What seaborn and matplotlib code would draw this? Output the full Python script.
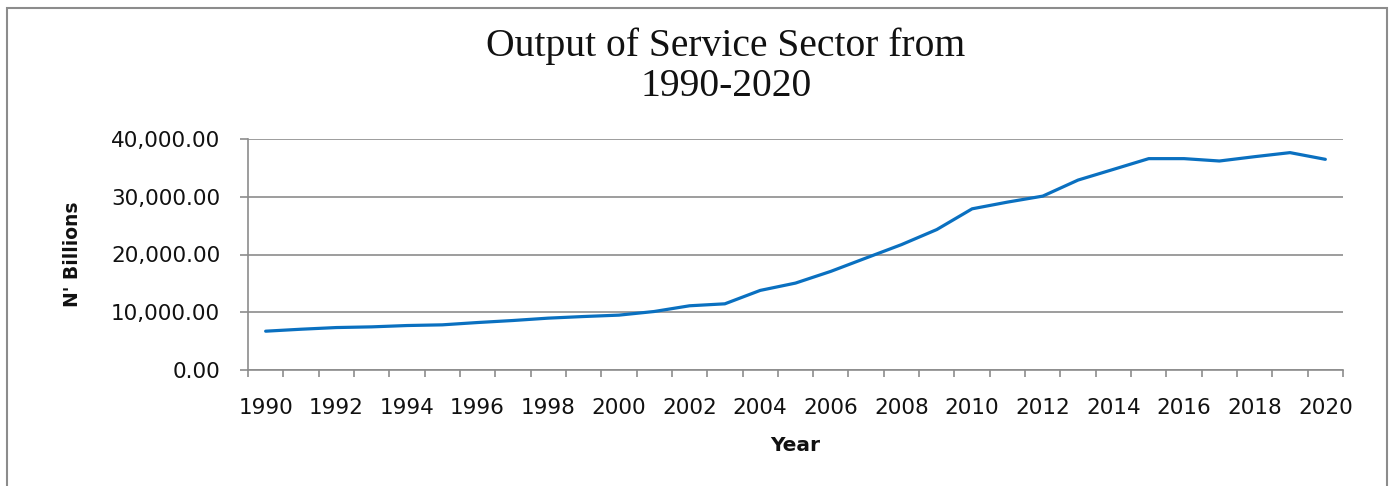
'''line chart: output of service sector 1990-2020'''
import numpy as np
import pandas as pd
import seaborn as sns
import matplotlib
matplotlib.use('Agg')
import matplotlib.pyplot as plt
from matplotlib import ticker
from matplotlib.patches import Rectangle

#region data
years = list(range(1990, 2021))
output_bn = [6720, 7060, 7350, 7470, 7700, 7820, 8220, 8570, 8980, 9260,
             9500, 10130, 11120, 11460, 13780, 15050, 17080, 19400, 21710, 24320,
             27910, 29070, 30110, 32890, 34740, 36600, 36600, 36190, 36940, 37640,
             36480]
ytick_vals = [0, 10000, 20000, 30000, 40000]
xtick_years = list(range(1990, 2021, 2))
title = 'Output of Service Sector from\n1990-2020'
#endregion

grey = '#8c8c8c'
blue = '#0a70c0'

sns.set_theme(style='white')
plt.rcParams['font.family'] = ['DejaVu Sans']

df = pd.DataFrame({'Year': years, 'Output': output_bn})

fig = plt.figure(figsize=(13.95, 4.86), dpi=100)
ax = fig.add_axes([248/1395, 1 - 370/486, (1343 - 248)/1395, (370 - 139)/486])

sns.lineplot(data=df, x='Year', y='Output', ax=ax, color=blue, linewidth=2.3)

ax.set_xlim(1989.5, 2020.5)
ax.set_ylim(0, 40000)
ax.set_yticks(ytick_vals)
ax.yaxis.set_major_formatter(ticker.FuncFormatter(lambda v, p: f'{v:,.2f}'))
ax.set_xticks(xtick_years)
ax.set_xticklabels([str(y) for y in xtick_years])
ax.set_xticks(np.arange(1989.5, 2021, 1), minor=True)

ax.tick_params(axis='x', which='major', length=0, pad=20, labelsize=15.5, labelcolor='#111111')
ax.tick_params(axis='x', which='minor', length=5, width=1.2, color=grey, direction='out', bottom=True)
ax.tick_params(axis='y', which='major', length=6, width=1.2, color=grey, direction='out', left=True,
               pad=14, labelsize=15.5, labelcolor='#111111')

ax.grid(axis='y', color=grey, linewidth=1.2)
ax.grid(axis='x', visible=False)
for side in ['top', 'right']:
    ax.spines[side].set_visible(False)
for side in ['left', 'bottom']:
    ax.spines[side].set_color(grey)
    ax.spines[side].set_linewidth(1.2)

ax.set_xlabel('Year', fontsize=14.5, fontweight='bold', color='#111111')
ax.xaxis.set_label_coords(0.5, -0.285)
ax.set_ylabel("N' Billions", fontsize=13.5, fontweight='bold', color='#111111')
ax.yaxis.set_label_coords(-0.152, 0.5)

fig.text(726/1395, 1 - 27/486, title, ha='center', va='top', fontsize=28.5,
         family=['Liberation Serif', 'DejaVu Serif'], color='#111111', linespacing=1.12)

#outer chart border, open at the bottom like the cropped original
fig.add_artist(Rectangle((7/1395, -0.05), (1387 - 7)/1395, 1.05 - 8/486, fill=False,
                         edgecolor=grey, linewidth=1.5, transform=fig.transFigure))

fig.savefig('out.png', dpi=100)
